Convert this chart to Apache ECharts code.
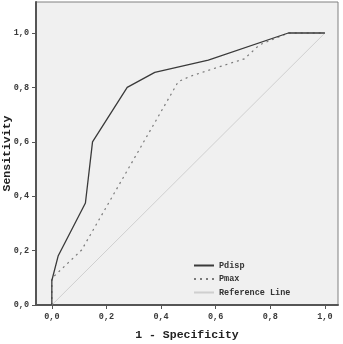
<!DOCTYPE html>
<html>
<head>
<meta charset="utf-8">
<script src="https://cdn.jsdelivr.net/npm/echarts@6/dist/echarts.min.js"></script>
<style>
    html, body { margin: 0; padding: 0; background: #fff; }
    #rocChart { width: 343px; height: 344px; }
</style>
</head>
<body>
<div id="rocChart"></div>
<script>
// 1 - specificity / sensitivity pairs
const pdispX = [0, 0, 0.023, 0.123, 0.149, 0.276, 0.377, 0.573, 0.866, 1];
const pdispY = [0, 0.09, 0.18, 0.375, 0.6, 0.8, 0.855, 0.9, 1, 1];
const pmaxX = [0, 0, 0.005, 0.109, 0.463, 0.505, 0.58, 0.705, 0.76, 0.866, 1];
const pmaxY = [0, 0.098, 0.104, 0.202, 0.821, 0.84, 0.865, 0.905, 0.956, 1, 1];
const refX = [0, 1];
const refY = [0, 1];
const tickValues = [0, 0.2, 0.4, 0.6, 0.8, 1];

const zip = (xs, ys) => xs.map((x, i) => [x, ys[i]]);
const fmt = v => v.toFixed(1).replace('.', ',');

const labelFont = {
    fontFamily: 'Liberation Mono',
    fontSize: 8.5,
    fontWeight: 'bold',
    color: '#3a3a3a'
};
const nameFont = {
    fontFamily: 'Liberation Mono',
    fontSize: 11.5,
    fontWeight: 'bold',
    color: '#222'
};

let chart = echarts.init(document.getElementById('rocChart'));
chart.setOption({
    animation: false,
    grid: {
        left: 36,
        top: 2,
        right: 5,
        bottom: 39,
        outerBoundsMode: 'none',
        containLabel: false,
        show: true,
        backgroundColor: '#f0f0f0',
        borderColor: '#808080',
        borderWidth: 1
    },
    legend: {
        left: 193,
        top: 261,
        padding: 0,
        orient: 'vertical',
        itemWidth: 20,
        itemHeight: 10,
        itemGap: 4.5,
        itemStyle: { opacity: 0 },
        textStyle: {
            fontFamily: 'Liberation Mono',
            fontSize: 8.5,
            fontWeight: 'bold',
            color: '#333'
        },
        data: ['Pdisp', 'Pmax', 'Reference Line']
    },
    xAxis: {
        type: 'value',
        min: -0.058,
        max: 1.048,
        name: '1 - Specificity',
        nameLocation: 'middle',
        nameGap: 24,
        nameMoveOverlap: false,
        nameTextStyle: nameFont,
        splitLine: { show: false },
        axisLine: { onZero: false, lineStyle: { color: '#555', width: 2 } },
        axisTick: { show: true, length: 4, customValues: tickValues, lineStyle: { color: '#555' } },
        axisLabel: Object.assign({ customValues: tickValues, margin: 7, formatter: fmt }, labelFont)
    },
    yAxis: {
        type: 'value',
        min: 0,
        max: 1.114,
        name: 'Sensitivity',
        nameLocation: 'middle',
        nameGap: 23,
        nameMoveOverlap: false,
        nameTextStyle: nameFont,
        splitLine: { show: false },
        axisLine: { show: true, onZero: false, lineStyle: { color: '#555', width: 2 } },
        axisTick: { show: true, length: 4, customValues: tickValues, lineStyle: { color: '#555' } },
        axisLabel: Object.assign({ customValues: tickValues, margin: 7, formatter: fmt }, labelFont)
    },
    series: [
        {
            name: 'Reference Line',
            type: 'line',
            symbol: 'none',
            z: 1,
            lineStyle: { color: '#cfcfcf', width: 1 },
            itemStyle: { color: '#cfcfcf' },
            data: zip(refX, refY)
        },
        {
            name: 'Pmax',
            type: 'line',
            symbol: 'none',
            z: 2,
            lineStyle: { color: '#7a7a7a', width: 1.2, type: [2, 4] },
            itemStyle: { color: '#7a7a7a' },
            data: zip(pmaxX, pmaxY)
        },
        {
            name: 'Pdisp',
            type: 'line',
            symbol: 'none',
            z: 3,
            lineStyle: { color: '#3a3a3a', width: 1.3 },
            itemStyle: { color: '#3a3a3a' },
            data: zip(pdispX, pdispY)
        }
    ]
});
</script>
</body>
</html>
